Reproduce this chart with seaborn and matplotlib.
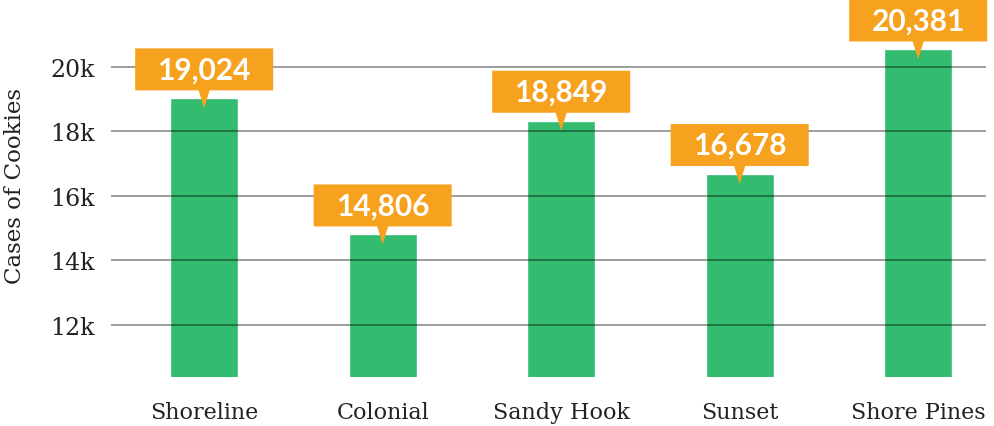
import matplotlib
matplotlib.use("Agg")
import matplotlib.pyplot as plt
import matplotlib.transforms as mtransforms
from matplotlib.patches import Polygon
import pandas as pd
import seaborn as sns

# values as shown in the chart
troops = ["Shoreline", "Colonial", "Sandy Hook", "Sunset", "Shore Pines"]
bar_heights = [19024, 14806, 18330, 16678, 20540]   # bar tops as drawn
value_labels = ["19,024", "14,806", "18,849", "16,678", "20,381"]
y_ticks = [12000, 14000, 16000, 18000, 20000]
y_tick_labels = ["12k", "14k", "16k", "18k", "20k"]

GREEN = "#33BB70"
ORANGE = "#F7A21E"

df = pd.DataFrame({"troop": troops, "cases": bar_heights})

sns.set_style("white")
plt.rcParams["font.family"] = ["DejaVu Serif"]

fig = plt.figure(figsize=(9.94, 4.27), dpi=100)
ax = fig.add_axes([0.112, 0.114, 0.88, 0.863])
sns.barplot(data=df, x="troop", y="cases", color=GREEN, saturation=1,
            width=0.38, ax=ax, zorder=1)

ax.set_ylim(10376, 21800)
ax.set_xlim(-0.52, 4.38)
ax.set_yticks(y_ticks)
ax.set_yticklabels(y_tick_labels)
ax.set_axisbelow(False)
ax.yaxis.grid(True, color="black", alpha=0.45, lw=1.2)
ax.xaxis.grid(False)
sns.despine(ax=ax, left=True, bottom=True)
ax.tick_params(axis="y", length=0, pad=12, labelsize=17, labelcolor="#222222")
ax.tick_params(axis="x", length=0, pad=17, labelsize=16, labelcolor="#222222")
ax.set_xlabel("")
ax.set_ylabel("Cases of Cookies", fontsize=16.5, color="#222222")
ax.yaxis.set_label_coords(-0.098, 0.522)

# orange callouts with a pointer into each bar
for i, (h, lab) in enumerate(zip(bar_heights, value_labels)):
    trans = fig.dpi_scale_trans + mtransforms.ScaledTranslation(i, h, ax.transData)
    shape = [(-0.69, 0.08), (-0.055, 0.08), (0, -0.10), (0.055, 0.08),
             (0.69, 0.08), (0.69, 0.50), (-0.69, 0.50)]
    ax.add_patch(Polygon(shape, closed=True, transform=trans, facecolor=ORANGE,
                         edgecolor="none", zorder=4, clip_on=False))
    ax.text(0, 0.29, lab, transform=trans, ha="center", va="center",
            color="white", fontsize=21.5, fontweight="bold", family="Lato",
            zorder=5, clip_on=False)

fig.savefig("out.png", dpi=100)
